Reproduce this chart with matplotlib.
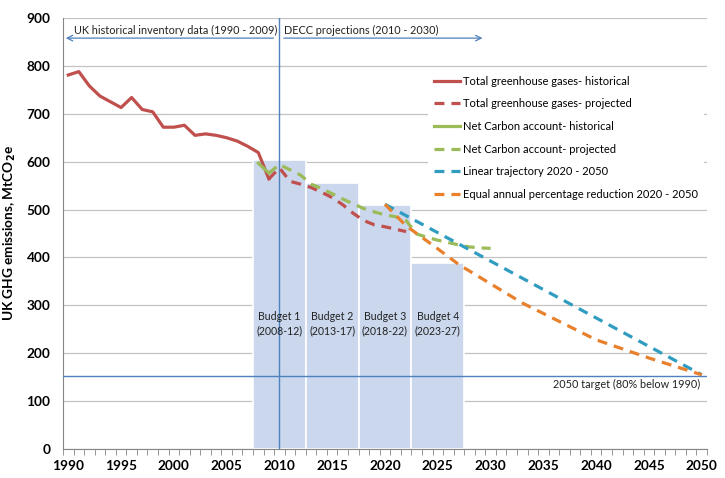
import matplotlib.pyplot as plt
from matplotlib.ticker import FixedLocator

plt.rcParams['font.family'] = ['Lato', 'DejaVu Sans']

# historical inventory (MtCO2e)
hist_years = list(range(1990, 2010))
ghg_hist = [781, 788, 758, 737, 725, 713, 734, 709, 704, 672,
            672, 676, 655, 658, 655, 650, 643, 632, 619, 564]
net_hist_years = [2008, 2009]
net_hist = [597, 576]

# DECC projections
ghg_proj_years = list(range(2009, 2023))
ghg_proj = [564, 587, 559, 553, 546, 536, 525, 510, 492, 477, 468, 464, 459, 454]
net_proj_years = list(range(2009, 2031))
net_proj = [576, 594, 583, 572, 553, 544, 533, 522, 512, 502, 495,
            489, 485, 477, 449, 442, 436, 431, 426, 422, 420, 419]

# 2020 - 2050 pathways
linear_years = [2020, 2050]
linear_vals = [511, 155]
pct_years = [2020, 2022, 2025, 2027, 2030, 2033, 2036, 2040, 2045, 2050]
pct_vals = [511, 466, 418, 385, 345, 305, 272, 228, 190, 155]

# carbon budgets, annual average
budget_first_year = [2008, 2013, 2018, 2023]
budget_vals = [603, 556, 510, 388]
budget_labels = ['Budget 1\n(2008-12)', 'Budget 2\n(2013-17)',
                 'Budget 3\n(2018-22)', 'Budget 4\n(2023-27)']
target_2050 = 153

year_ticks = list(range(1990, 2051, 5))
y_ticks = list(range(0, 901, 100))

RED = '#c0504d'
GREEN = '#9bbb59'
TEAL = '#2f9cc0'
ORANGE = '#e8802c'
BLUE = '#4f81bd'
DASH = (3.1, 2.2)


def main():
    fig = plt.figure(figsize=(7.25, 4.78), dpi=100)
    ax = fig.add_axes([63 / 725, 1 - 449 / 478, 644 / 725, 431 / 478])

    # budgets as wide bars spanning five years
    for start, val, lab in zip(budget_first_year, budget_vals, budget_labels):
        ax.bar(start - 0.5, val, width=5, align='edge', color='#cad7ec',
               edgecolor='white', linewidth=1.2, zorder=1)
        ax.text(start + 2, 262, lab, ha='center', va='center', fontsize=7.6,
                color='#222222', linespacing=1.35, zorder=5)

    ax.plot(hist_years, ghg_hist, color=RED, lw=2.3, zorder=4,
            label='Total greenhouse gases- historical')
    ax.plot(ghg_proj_years, ghg_proj, color=RED, lw=2.3, dashes=DASH, zorder=4,
            label='Total greenhouse gases- projected')
    ax.plot(net_hist_years, net_hist, color=GREEN, lw=2.3, zorder=4,
            label='Net Carbon account- historical')
    ax.plot(net_proj_years, net_proj, color=GREEN, lw=2.3, dashes=DASH, zorder=4,
            label='Net Carbon account- projected')
    ax.plot(linear_years, linear_vals, color=TEAL, lw=2.3, dashes=DASH, zorder=4,
            label='Linear trajectory 2020 - 2050')
    ax.plot(pct_years, pct_vals, color=ORANGE, lw=2.3, dashes=DASH, zorder=4,
            label='Equal annual percentage reduction 2020 - 2050')

    # reference lines
    ax.axvline(2010, color=BLUE, lw=1, zorder=3)
    ax.axhline(target_2050, color=BLUE, lw=1, zorder=3)
    ax.text(2049.9, 134, '2050 target (80% below 1990)', ha='right',
            va='center', fontsize=7.8, color='#222222')

    # period arrows
    ax.annotate('', xy=(1989.5, 858), xytext=(2009.7, 858),
                arrowprops=dict(arrowstyle='->', color=BLUE, lw=0.9))
    ax.annotate('', xy=(2029.5, 858), xytext=(2010.15, 858),
                arrowprops=dict(arrowstyle='->', color=BLUE, lw=0.9))
    ax.text(1990.5, 862, 'UK historical inventory data (1990 - 2009)',
            fontsize=7.8, va='bottom', color='#222222')
    ax.text(2010.4, 862, 'DECC projections (2010 - 2030)',
            fontsize=7.8, va='bottom', color='#222222')

    # axes styling
    ax.set_xlim(1989.5, 2050.5)
    ax.set_ylim(0, 900)
    ax.set_xticks(year_ticks)
    ax.xaxis.set_minor_locator(FixedLocator([y + 0.5 for y in range(1989, 2051)]))
    ax.tick_params(axis='x', which='major', length=0, pad=8)
    ax.tick_params(axis='x', which='minor', length=4, color='#868686')
    ax.set_yticks(y_ticks)
    ax.tick_params(axis='y', length=0, pad=9)
    for lab in ax.get_xticklabels() + ax.get_yticklabels():
        lab.set_fontweight('bold')
        lab.set_fontsize(9.8)
    ax.yaxis.grid(True, color='#c3c3c3', lw=0.9, zorder=0)
    ax.set_axisbelow(True)
    for side in ['top', 'right']:
        ax.spines[side].set_visible(False)
    for side in ['left', 'bottom']:
        ax.spines[side].set_color('#868686')
    ax.set_ylabel(r'UK GHG emissions, MtCO$_\mathbf{2}$e', fontsize=9.8,
                  fontweight='bold', labelpad=6)

    leg = ax.legend(loc='upper left', bbox_to_anchor=(428 / 725, 1 - 70 / 478),
                    bbox_transform=fig.transFigure, fontsize=8, frameon=True,
                    facecolor='white', edgecolor='none', framealpha=1,
                    handlelength=2.35, handletextpad=0.3, labelspacing=1.05,
                    borderpad=0.5, borderaxespad=0)
    leg.set_zorder(6)

    fig.savefig('out.png', dpi=100)


if __name__ == '__main__':
    main()
